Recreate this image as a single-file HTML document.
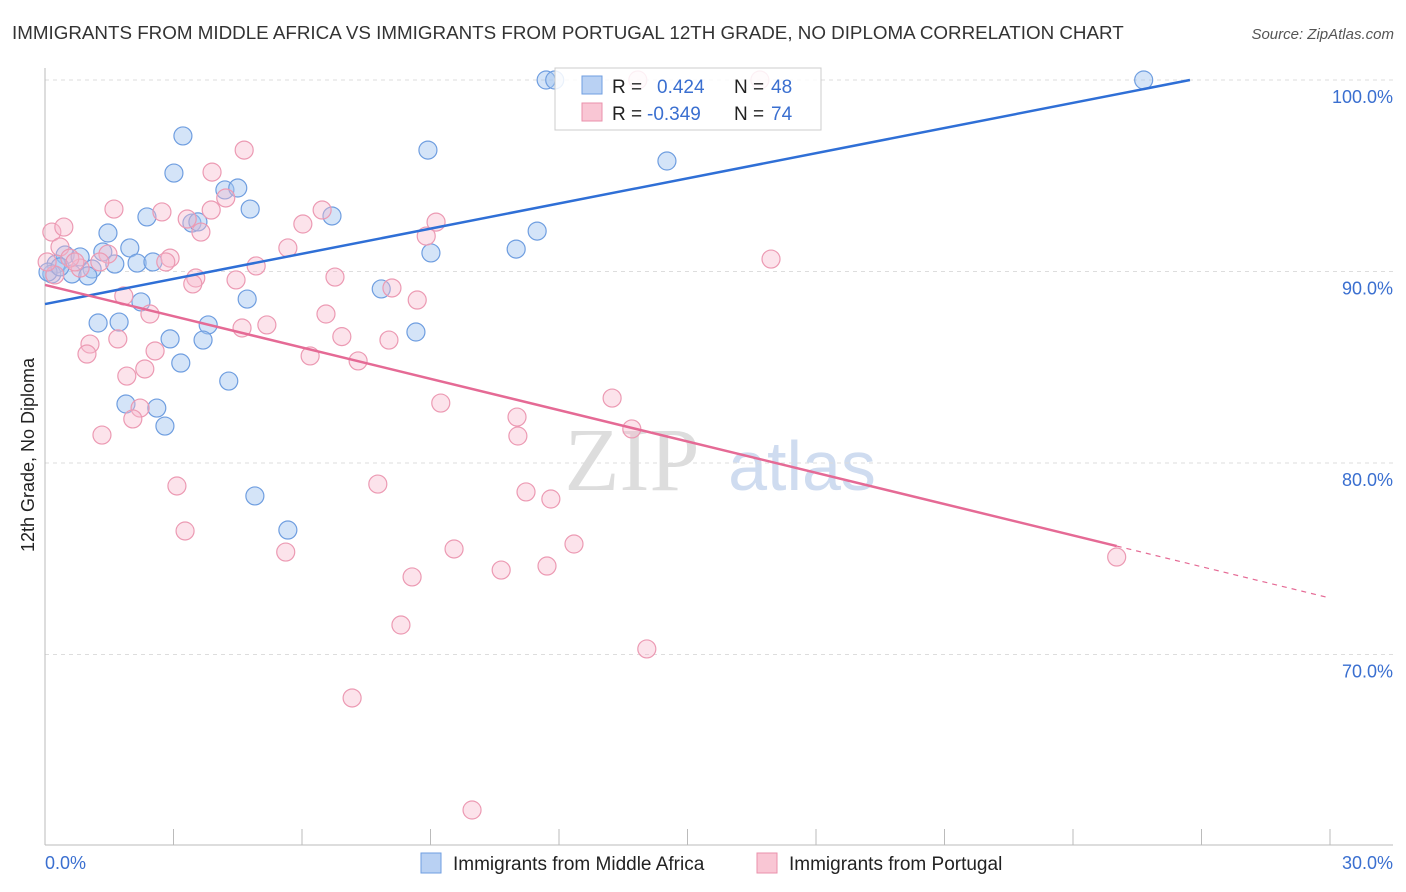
<!DOCTYPE html>
<html><head><meta charset="utf-8"><style>
body{margin:0;background:#fff;font-family:"Liberation Sans",sans-serif}
svg{display:block}
</style></head><body>
<svg width="1406" height="892" xmlns="http://www.w3.org/2000/svg">
<text x="12" y="39" font-size="18.8" fill="#333">IMMIGRANTS FROM MIDDLE AFRICA VS IMMIGRANTS FROM PORTUGAL 12TH GRADE, NO DIPLOMA CORRELATION CHART</text>
<text x="1394" y="39" font-size="15" fill="#555" font-style="italic" text-anchor="end">Source: ZipAtlas.com</text>
<text x="632" y="490" font-size="90" fill="#ddd" font-family="Liberation Serif" text-anchor="middle">ZIP</text>
<text x="802" y="490" font-size="70" fill="#cfdcf0" text-anchor="middle">atlas</text>
<g id="grid"></g>
<g id="axes"></g>
<g id="pts"></g>
<g id="trend"></g>
<text transform="translate(34,455) rotate(-90)" font-size="18" fill="#222" text-anchor="middle">12th Grade, No Diploma</text>
<text x="45" y="869" font-size="18" fill="#3a6fd0">0.0%</text>
<text x="1393" y="869" font-size="18" fill="#3a6fd0" text-anchor="end">30.0%</text>
<g>
<rect x="555" y="68" width="266" height="62" fill="#fff" fill-opacity="0.85" stroke="#ccc"/>
<rect x="582" y="76" width="20" height="18" fill="#b9d1f3" stroke="#6f9ee0"/>
<rect x="582" y="103" width="20" height="18" fill="#f9c6d4" stroke="#ea90ab"/>
<text x="612" y="93" font-size="19" fill="#222">R = </text><text x="657" y="93" font-size="19" fill="#3a6fd0">0.424</text>
<text x="734" y="93" font-size="19" fill="#222">N = </text><text x="771" y="93" font-size="19" fill="#3a6fd0">48</text>
<text x="612" y="120" font-size="19" fill="#222">R = </text><text x="647" y="120" font-size="19" fill="#3a6fd0">-0.349</text>
<text x="734" y="120" font-size="19" fill="#222">N = </text><text x="771" y="120" font-size="19" fill="#3a6fd0">74</text>
</g>
<g>
<rect x="421" y="853" width="20" height="20" fill="#b9d1f3" stroke="#6f9ee0"/>
<text x="453" y="870" font-size="19" fill="#222">Immigrants from Middle Africa</text>
<rect x="757" y="853" width="20" height="20" fill="#f9c6d4" stroke="#ea90ab"/>
<text x="789" y="870" font-size="19" fill="#222">Immigrants from Portugal</text>
</g>
</svg>
<script>
const yTicks=[100,90,80,70];
const yTickLabels=["100.0%","90.0%","80.0%","70.0%"];
const xTicks=[0,3,6,9,12,15,18,21,24,27,30];
const blueX=[11.7,11.9,25.65,3.22,8.94,3.01,14.52,4.2,4.5,4.79,2.38,3.43,3.57,6.7,1.47,11.49,1.98,11.0,9.01,1.35,0.47,0.82,0.26,1.63,2.15,2.52,1.1,0.63,1.0,0.16,7.85,4.72,2.24,1.24,1.73,3.81,8.66,2.92,3.69,3.17,4.29,1.89,2.61,2.8,4.9,5.67,0.07,0.35];
const blueY=[100,100,100,97.08,96.34,95.14,95.77,94.26,94.36,93.26,92.85,92.53,92.59,92.9,92.01,92.11,91.23,91.17,90.97,91.02,90.86,90.76,90.39,90.39,90.44,90.5,90.13,89.87,89.77,89.87,89.09,88.56,88.41,87.31,87.36,87.21,86.84,86.48,86.42,85.22,84.28,83.08,82.87,81.93,78.28,76.5,89.97,90.24];
const pinkX=[0.16,0.44,0.35,1.61,2.73,4.65,3.9,4.22,3.32,3.64,3.88,6.02,6.47,9.13,8.9,5.67,1.47,2.92,2.82,4.93,3.52,3.45,4.46,6.77,8.1,8.69,1.84,2.45,6.56,5.18,4.6,1.7,1.05,0.98,2.57,6.93,8.03,6.19,7.31,2.33,1.91,2.22,2.05,1.33,9.24,13.24,11.02,11.04,13.7,3.08,7.77,11.23,11.81,3.27,5.62,9.55,12.35,10.65,11.72,8.57,8.31,14.05,7.17,9.97,25.02,16.95,13.84,16.69,0.82,0.58,1.28,0.23,0.7,0.05];
const pinkY=[92.06,92.32,91.28,93.26,93.11,96.34,95.19,93.84,92.74,92.06,93.21,92.48,93.21,92.58,91.85,91.23,90.91,90.7,90.5,90.29,89.66,89.35,89.56,89.71,89.14,88.51,88.72,87.78,87.78,87.21,87.05,86.48,86.21,85.69,85.85,86.6,86.42,85.59,85.33,84.91,84.54,82.87,82.3,81.46,83.13,83.39,82.4,81.41,81.78,78.8,78.9,78.49,78.12,76.45,75.35,75.51,75.77,74.41,74.62,74.05,71.54,70.29,67.73,61.88,75.09,90.65,100,100,90.18,90.7,90.5,89.82,90.5,90.5];
const blueTrend=[88.3,100];const blueTrendX=[0,26.73];
const pinkTrend=[89.3,72.95];const pinkSolidEnd=25.02;
const X=v=>45+v*1285/30, Y=v=>80+(100-v)*19.15;
const NS="http://www.w3.org/2000/svg";
function mk(t,a,p){const e=document.createElementNS(NS,t);for(const k in a)e.setAttribute(k,a[k]);p.appendChild(e);return e;}
const grid=document.getElementById('grid'),axes=document.getElementById('axes'),pts=document.getElementById('pts'),tr=document.getElementById('trend');
yTicks.forEach((v,i)=>{
 const l=mk('line',{x1:45,x2:1393,y1:Y(v),y2:Y(v),stroke:'#ddd','stroke-dasharray':'4,4'},grid);
 
 
 const t=mk('text',{x:1393,y:Y(v)+23,'font-size':18,fill:'#3a6fd0','text-anchor':'end'},grid);
 t.textContent=yTickLabels[i];
 
 
});
const ya=mk('line',{x1:45,x2:45,y1:68,y2:845,stroke:'#bbb'},axes);


const xa=mk('line',{x1:45,x2:1393,y1:845,y2:845,stroke:'#bbb'},axes);


xTicks.forEach(v=>{
 const l=mk('line',{x1:X(v),x2:X(v),y1:829,y2:845,stroke:'#bbb'},axes);
 
 
});
blueX.forEach((v,i)=>{
 const c=mk('circle',{cx:X(v),cy:Y(blueY[i]),r:9,fill:'rgba(160,195,240,0.45)',stroke:'#6f9ee0','stroke-width':1.2},pts);
 
 
});
pinkX.forEach((v,i)=>{
 const c=mk('circle',{cx:X(v),cy:Y(pinkY[i]),r:9,fill:'rgba(248,185,205,0.4)',stroke:'#ec9ab3','stroke-width':1.2},pts);
 
 
});
const pf=x=>pinkTrend[0]+(pinkTrend[1]-pinkTrend[0])*x/30;
const b=mk('line',{x1:X(blueTrendX[0]),y1:Y(blueTrend[0]),x2:X(blueTrendX[1]),y2:Y(blueTrend[1]),stroke:'#2f6fd6','stroke-width':2.5},tr);


const p=mk('line',{x1:X(0),y1:Y(pf(0)),x2:X(pinkSolidEnd),y2:Y(pf(pinkSolidEnd)),stroke:'#e56a95','stroke-width':2.5},tr);


const pd=mk('line',{x1:X(pinkSolidEnd),y1:Y(pf(pinkSolidEnd)),x2:X(30),y2:Y(pf(30)),stroke:'#e56a95','stroke-width':1.2,'stroke-dasharray':'5,5'},tr);


</script>
</body></html>
